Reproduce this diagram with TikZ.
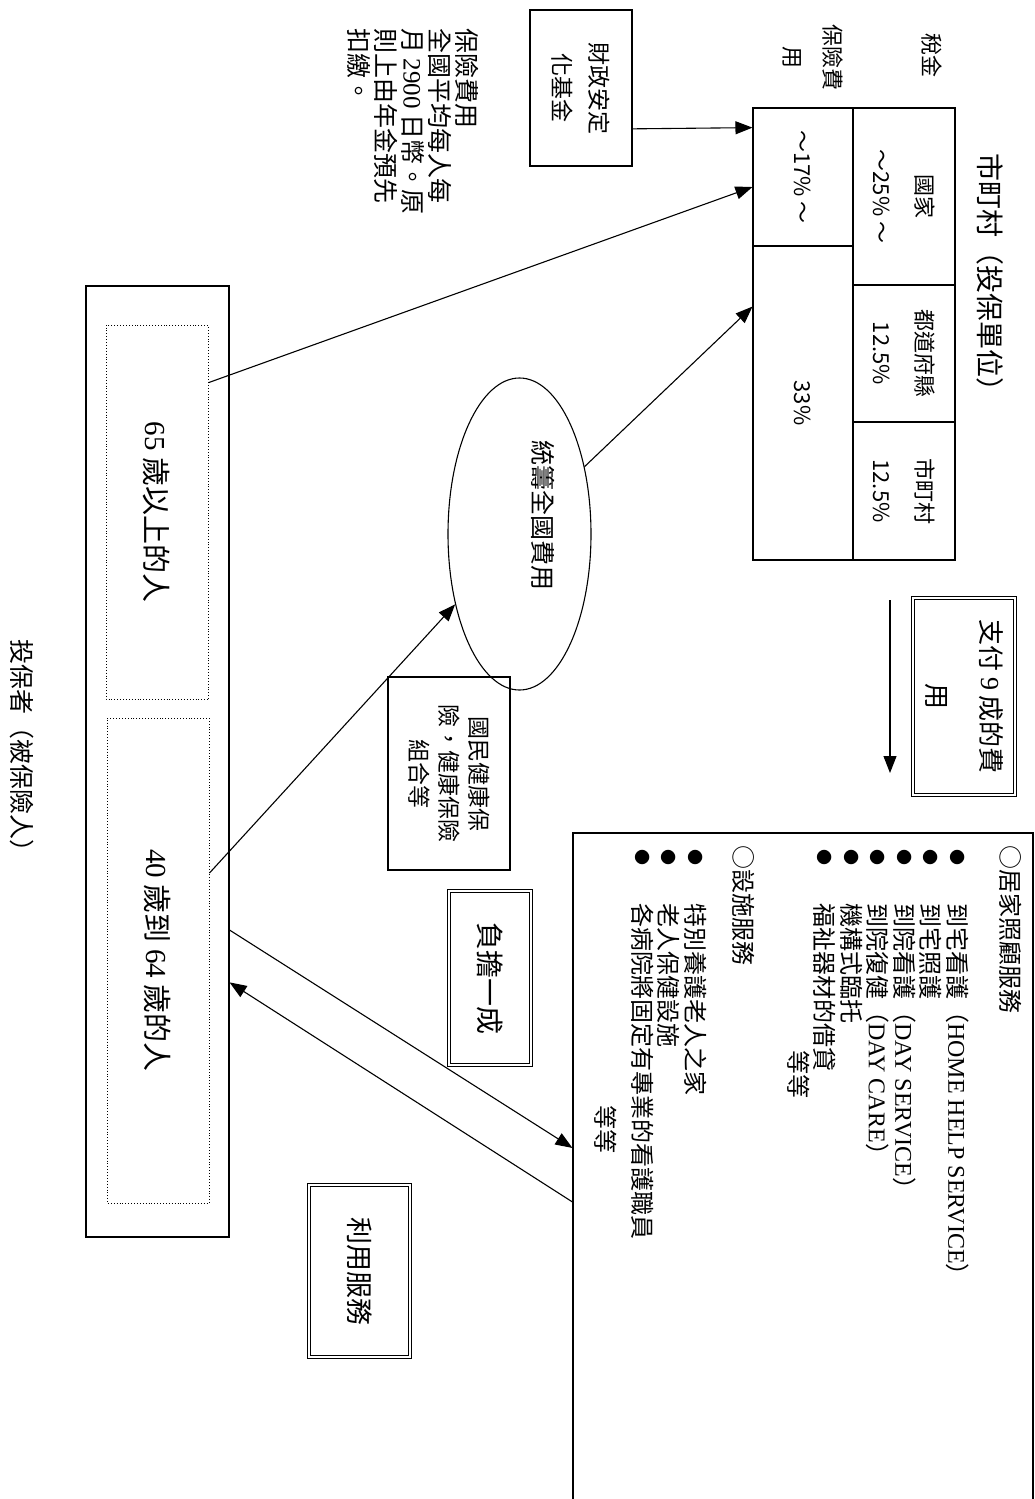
\documentclass[tikz,border=0pt]{standalone}
\usepackage{fontspec}
\setmainfont{Noto Sans CJK TC}
\newfontfamily\lat{Liberation Serif}
\usetikzlibrary{arrows.meta,calc,shapes.geometric}
\newcommand\fsz[2]{\fontsize{#1}{#2}\selectfont}
\newcommand\bul{\makebox[58pt][l]{\hspace{4pt}\raisebox{3pt}{\fsz{16}{16}●}}}
\tikzset{
    box/.style={draw, line width=1.1pt, inner sep=0pt, align=center},
    cell/.style={box, minimum height=102pt, font=\fsz{22}{43}},
    dotbox/.style={draw, dotted, line width=0.9pt, inner sep=0pt,
                   minimum height=102pt, font=\fsz{29}{30}},
    dblbox/.style={draw, double, double distance=2.4pt, line width=0.9pt,
                   inner sep=0pt, align=center},
    flow/.style={-{Triangle[length=17pt,width=13pt]}, line width=1.1pt},
    note/.style={align=left, inner sep=0pt},
    pool/.style={ellipse, draw, line width=1.1pt, inner sep=0pt,
                 minimum width=312pt, minimum height=143pt},
}

\begin{document}
\begin{tikzpicture}[x=1pt, y=1pt, rotate=-90, transform shape]

    \useasboundingbox (0,0) rectangle (1499,1035);
    \clip (0,0) rectangle (1499,1035);

    % municipality (insurer) and its financing table
    \node[font=\fsz{28}{30}] (title) at (279,990) {市町村（投保單位）};
    \node[cell, minimum width=177pt] (natl) at (196.5,904) {國家\\～25\% ～};
    \node[cell, minimum width=137pt] (pref) at (353.5,904) {都道府縣\\12.5\%};
    \node[cell, minimum width=138pt] (city) at (491,904) {市町村\\12.5\%};
    \node[cell, minimum width=138pt, minimum height=100pt] (ins17) at (177,803) {～17\% ～};
    \node[cell, minimum width=314pt, minimum height=100pt] (ins33) at (403,803) {33\%};
    \node[font=\fsz{22}{40}] (tax) at (55,932) {稅金};
    \node[font=\fsz{22}{40}, align=center] (fee) at (57,813) {保險費\\用};

    \node[box, minimum width=156pt, minimum height=102pt, font=\fsz{23}{37}] (fund) at (88,581) {財政安定\\化基金};
    \node[note, font=\fsz{25}{27}, anchor=north west] (memo) at (28,479)
        {保險費用\\全國平均每人每\\月 {\lat 2900} 日幣。原\\則上由年金預先\\扣繳。};

    % insured persons
    \node[box, minimum width=951pt, minimum height=143pt] (insured) at (761.5,157.5) {};
    \node[dotbox, minimum width=374pt] (age65) at (512,157) {{\lat 65} 歲以上的人};
    \node[dotbox, minimum width=485pt] (age40) at (960.5,158) {{\lat 40} 歲到 {\lat 64} 歲的人};
    \node[font=\fsz{25}{27}] (insurer) at (752,22) {投保者（被保險人）};

    % national pooling
    \node[pool] (pool) at (534,519.5) {};
    \node[font=\fsz{25}{27}] (poolname) at (515,543) {統籌全國費用};
    \node[box, minimum width=193pt, minimum height=122pt, font=\fsz{23}{30}] (health) at (773.5,449)
        {國民健康保\\險，健康保險\\組合等};

    % payment and services
    \node[dblbox, minimum width=197pt, minimum height=102pt, font=\fsz{26}{54}] (pay) at (696.5,964)
        {支付 {\lat 9} 成的費\\用};
    \coordinate (payA) at (600,890);
    \coordinate (payB) at (773,890);
    \node[dblbox, minimum width=174pt, minimum height=82pt, font=\fsz{28}{30}] (copay) at (978,490) {負擔一成};
    \node[dblbox, minimum width=172pt, minimum height=101pt, font=\fsz{27}{30}] (usage) at (1271,359.5) {利用服務};
    \node[box, minimum width=687pt, minimum height=460pt] (care) at (1176.5,803) {};
    \node[note, font=\fsz{24}{26.5}, anchor=north west] (carelist) at (845,1022)
        {○居家照顧服務\\[26.5pt]
         \bul 到宅看護（{\lat HOME HELP SERVICE}）\\
         \bul 到宅照護\\
         \bul 到院看護（{\lat DAY SERVICE}）\\
         \bul 到院復健（{\lat DAY CARE}）\\
         \bul 機構式臨托\\
         \bul 福祉器材的借貸\\
         \hspace{205pt}等等\\[28pt]
         ○設施服務\\[22pt]
         \bul 特別養護老人之家\\
         \bul 老人保健設施\\
         \bul 各病院將固定有專業的看護職員\\[10pt]
         \hspace{260pt}等等};

    % money and service flows
    \draw[flow] ($(fund.north west)!0.76!(fund.north east)$) -- ($(ins17.south west)!0.145!(ins17.south east)$);
    \draw[flow] ($(age65.north west)!0.155!(age65.north east)$) -- ($(ins17.south west)!0.572!(ins17.south east)$);
    \draw[flow] ($(age40.north west)!0.32!(age40.north east)$) -- (pool);
    \draw[flow] (pool.136) -- ($(ins33.south west)!0.194!(ins33.south east)$);
    \draw[flow] (payA) -- (payB);
    \draw[flow] ($(insured.north west)!0.677!(insured.north east)$) -- ($(care.south west)!0.4585!(care.south east)$);
    \draw[flow] ($(care.south west)!0.537!(care.south east)$) -- ($(insured.north west)!0.732!(insured.north east)$);

\end{tikzpicture}
\end{document}
